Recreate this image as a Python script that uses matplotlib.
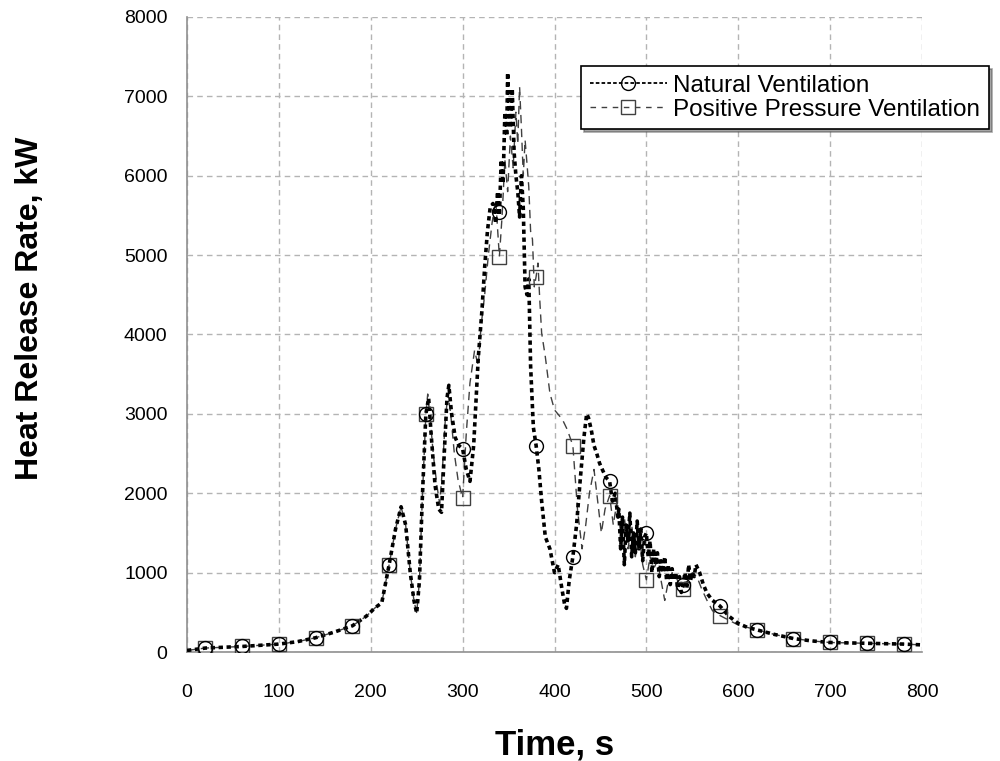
import matplotlib
matplotlib.use("Agg")
import matplotlib.pyplot as plt
from matplotlib.lines import Line2D

plt.rcParams['font.family'] = ['Liberation Sans', 'DejaVu Sans']

# ---- data ----
nat_t = [0, 10, 20, 40, 60, 80, 100, 120, 140, 160, 180, 195, 205, 212, 220, 227, 233, 238, 243, 247,
         250, 253, 256, 260, 263, 266, 270, 274, 277, 280, 283, 285, 288, 292, 296, 300, 304, 308, 312, 317,
         321, 324, 327, 330, 333, 336, 338, 340, 342, 344, 346, 348, 349, 350, 352, 354, 356, 358, 360, 362,
         364, 366, 368, 370, 372, 374, 377, 380, 383, 386, 390, 395, 400, 404, 408, 411, 413, 416, 420, 424,
         428, 432, 435, 437, 440, 443, 446, 449, 452, 456, 460, 463, 466, 469, 470, 472, 474, 476, 478, 480,
         482, 484, 486, 488, 490, 492, 494, 496, 498, 500, 502, 504, 506, 508, 510, 512, 514, 516, 518, 520,
         522, 524, 526, 528, 530, 532, 534, 536, 538, 540, 542, 544, 546, 548, 550, 552, 554, 556, 558, 562,
         566, 572, 580, 590, 600, 610, 620, 640, 660, 680, 700, 720, 740, 760, 780, 800]
nat_v = [20, 35, 50, 60, 70, 85, 100, 130, 180, 250, 330, 450, 560, 620, 1100, 1550, 1830, 1600, 1000, 650,
         490, 900, 1900, 3000, 3200, 2700, 2100, 1800, 1760, 2500, 3200, 3360, 3000, 2700, 2600, 2560, 2300, 2150, 2600, 3700,
         4300, 4850, 5300, 5600, 5650, 5400, 5800, 5500, 6200, 5900, 6800, 6500, 7300, 7000, 6600, 7100, 6300, 6000, 5800, 5480,
         6000, 5600, 4600, 4500, 4700, 3600, 2830, 2600, 2300, 1900, 1450, 1300, 1000, 1100, 800, 600, 550, 900, 1200, 1600,
         2170, 2700, 3000, 2950, 2800, 2600, 2500, 2380, 2300, 2200, 2150, 1900, 2000, 1700, 1800, 1300, 1700, 1100, 1600, 1400,
         1750, 1200, 1500, 1250, 1650, 1300, 1550, 1150, 1450, 1500, 1200, 1400, 1000, 1300, 1100, 1250, 950, 1150, 1000, 1200,
         900, 1100, 850, 1050, 900, 1000, 800, 950, 750, 850, 1000, 800, 1100, 900, 1000, 950, 1100, 1050, 1000, 850,
         740, 650, 580, 450, 360, 310, 280, 220, 170, 140, 120, 115, 110, 105, 100, 90]

ppv_t = [0, 10, 20, 40, 60, 80, 100, 120, 140, 160, 180, 195, 205, 212, 220, 227, 233, 238, 243, 247,
         250, 253, 256, 260, 262, 265, 268, 272, 275, 278, 281, 284, 287, 291, 295, 300, 304, 308, 313, 317,
         320, 324, 328, 332, 336, 340, 343, 346, 349, 352, 355, 358, 360, 362, 364, 366, 368, 370, 372, 374,
         376, 378, 380, 382, 384, 386, 390, 395, 400, 405, 409, 414, 420, 425, 430, 434, 438, 443, 447, 451,
         455, 460, 464, 468, 472, 476, 480, 484, 488, 492, 496, 500, 504, 508, 512, 516, 520, 524, 528, 532,
         536, 540, 545, 550, 555, 560, 566, 572, 580, 590, 600, 620, 640, 660, 680, 700, 740, 780, 800]
ppv_v = [20, 35, 50, 60, 70, 85, 100, 130, 180, 250, 330, 450, 560, 620, 1100, 1550, 1830, 1600, 1000, 650,
         490, 900, 1900, 3000, 3250, 2900, 2500, 2100, 1870, 2300, 2900, 3260, 3000, 2500, 2170, 1940, 2760, 3390, 3800, 3600,
         4100, 4500, 5000, 5400, 5700, 4980, 5500, 6200, 5800, 6500, 6100, 6800, 6400, 7120, 6600, 6000, 6450, 6160, 5860, 5300,
         5200, 4600, 4730, 4900, 4430, 4020, 3720, 3260, 3050, 2980, 2920, 2800, 2600, 1800, 1300, 1600, 2000, 2300, 1900, 1500,
         1800, 1970, 1600, 1900, 1500, 1700, 1300, 1600, 1200, 1500, 1100, 910, 1200, 1050, 1150, 900, 650, 900, 1000, 950,
         850, 800, 900, 1000, 950, 800, 650, 520, 460, 400, 340, 280, 220, 170, 140, 120, 110, 100, 90]

marker_t = [20, 60, 100, 140, 180, 220, 260, 300, 340, 380, 420, 460, 500, 540, 580, 620, 660, 700, 740, 780]
nat_marker_v = [50, 70, 100, 180, 330, 1100, 3000, 2560, 5540, 2600, 1200, 2150, 1500, 850, 580, 280, 170, 120, 110, 100]
ppv_marker_v = [50, 70, 100, 180, 330, 1100, 3000, 1940, 4980, 4730, 2600, 1970, 910, 800, 460, 280, 170, 120, 110, 100]

x_ticks = [0, 100, 200, 300, 400, 500, 600, 700, 800]
y_ticks = [0, 1000, 2000, 3000, 4000, 5000, 6000, 7000, 8000]

# ---- figure ----
fig = plt.figure(figsize=(10.0, 7.61), dpi=100)
ax = fig.add_axes([0.187, 0.1432, 0.735, 0.8345])

ax.plot(ppv_t, ppv_v, color='#404040', lw=1.0, ls=(0, (6, 4)), zorder=3)
ax.plot(nat_t, nat_v, color='black', lw=2.6, ls=(0, (1.2, 1.0)), zorder=4)
ax.plot(marker_t, ppv_marker_v, ls='none', marker='s', ms=10, mfc='none', mec='#404040', mew=1.0, zorder=5)
ax.plot(marker_t, nat_marker_v, ls='none', marker='o', ms=10, mfc='none', mec='black', mew=1.0, zorder=6)

ax.set_xlim(0, 800)
ax.set_ylim(0, 8000)
ax.set_xticks(x_ticks)
ax.set_yticks(y_ticks)
ax.tick_params(labelsize=14, length=0)
ax.tick_params(axis='x', pad=23)
ax.tick_params(axis='y', pad=14)
ax.grid(True, color='#b4b4b4', ls=(0, (4, 3)), lw=1.0)
ax.set_axisbelow(True)
for s in ['top', 'right']:
    ax.spines[s].set_visible(False)
for s in ['left', 'bottom']:
    ax.spines[s].set_color('#909090')
    ax.spines[s].set_linewidth(1.2)

fig.text(0.5545, 1 - 745 / 761, 'Time, s', fontsize=25, fontweight='bold', ha='center', va='center')
fig.text(0.030, 1 - 308 / 761, 'Heat Release Rate, kW', fontsize=23, fontweight='bold',
         ha='center', va='center', rotation=90)

handles = [
    Line2D([], [], color='black', lw=1.3, ls=(0, (2, 1.2)), marker='o', ms=10, mfc='none', mec='black', mew=1.0),
    Line2D([], [], color='#404040', lw=1.0, ls=(0, (4, 4)), marker='s', ms=10, mfc='none', mec='#404040', mew=1.0),
]
leg = fig.legend(handles, ['Natural Ventilation', 'Positive Pressure Ventilation'],
                 loc='upper left', bbox_to_anchor=(0.581, 1 - 66 / 761), fontsize=17.5,
                 frameon=True, fancybox=False, shadow=True, borderpad=0.35,
                 handlelength=3.2, handletextpad=0.25, labelspacing=0.1, borderaxespad=0)
leg.get_frame().set_edgecolor('black')
leg.get_frame().set_linewidth(1.2)

fig.savefig('out.png', dpi=100)
